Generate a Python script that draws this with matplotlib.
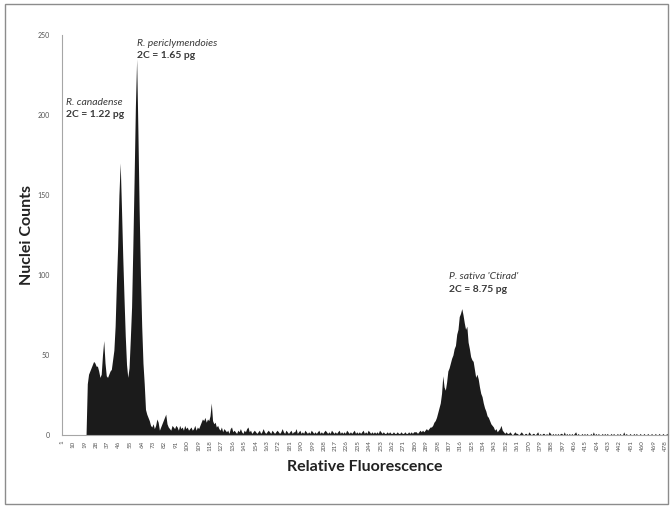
#!/usr/bin/env python3
# flow cytometry histogram: Rhododendron samples with Pisum sativum standard
import matplotlib
matplotlib.use("Agg")
import matplotlib.pyplot as plt
from matplotlib.patches import Rectangle

# channels 1..480 of the relative fluorescence axis
channels = list(range(1, 481))

# channels 1-130: R. canadense and R. periclymenoides peaks
counts_rhodo = [
    0, 0, 0, 0, 0, 0, 0, 0, 0, 0, 0, 0, 0, 0, 0, 0, 0, 0, 0, 0,
    32, 38, 40, 42, 44, 46, 45, 43, 43, 40, 36, 38, 50, 59, 45, 37, 36, 38, 40, 41,
    47, 53, 68, 95, 118, 150, 170, 142, 112, 86, 62, 44, 36, 42, 60, 80, 118, 160, 205, 235,
    190, 140, 100, 68, 45, 32, 16, 13, 11, 9, 6, 5, 7, 4, 6, 10, 8, 3, 5, 7,
    9, 11, 13, 7, 5, 4, 3, 6, 5, 4, 6, 5, 3, 6, 4, 5, 3, 6, 4, 5,
    3, 4, 5, 3, 4, 6, 3, 5, 4, 6, 8, 10, 9, 11, 8, 10, 9, 12, 20, 9,
    7, 8, 5, 6, 4, 3, 5, 2, 4, 3,
]
# channels 131-280: debris between the peaks
counts_debris = [
    2, 3, 1, 4, 5, 2, 3, 2, 1, 3, 2, 4, 2, 1, 3, 2, 4, 5, 2, 3,
    1, 2, 3, 2, 1, 2, 3, 1, 2, 4, 2, 1, 2, 3, 2, 1, 3, 2, 1, 2,
    3, 2, 1, 2, 4, 2, 1, 3, 2, 1, 2, 3, 1, 2, 2, 4, 1, 2, 3, 1,
    2, 1, 3, 2, 1, 2, 1, 3, 2, 1, 2, 1, 2, 3, 1, 2, 1, 2, 3, 2,
    1, 2, 1, 3, 2, 1, 2, 1, 2, 3, 1, 2, 1, 2, 1, 3, 2, 1, 2, 1,
    2, 3, 1, 2, 1, 2, 1, 2, 3, 1, 2, 1, 3, 2, 1, 2, 1, 2, 1, 2,
    1, 3, 2, 1, 2, 1, 1, 2, 1, 2, 1, 1, 2, 1, 1, 2, 1, 1, 2, 1,
    1, 2, 1, 1, 2, 1, 2, 1, 2, 2,
]
# channels 281-350: P. sativa 'Ctirad' peak
counts_pisum = [
    2, 1, 2, 3, 2, 3, 2, 3, 4, 3, 4, 5, 5, 6, 8, 9, 11, 14, 17, 20,
    26, 37, 30, 28, 33, 40, 42, 45, 48, 50, 54, 56, 63, 66, 74, 76, 79, 75, 70, 66,
    68, 58, 54, 49, 47, 46, 41, 36, 38, 35, 30, 26, 24, 20, 17, 15, 12, 11, 9, 7,
    6, 5, 3, 4, 2, 3, 4, 6, 3, 2,
]
# channels 351-480: tail
counts_tail = [
    1, 2, 1, 1, 2, 1, 0, 1, 2, 1, 1, 0, 1, 2, 1, 0, 1, 1, 0, 2,
    1, 0, 1, 1, 0, 1, 2, 0, 1, 0, 1, 1, 0, 1, 0, 2, 1, 0, 1, 0,
    1, 0, 1, 0, 1, 1, 0, 2, 0, 1, 0, 1, 0, 1, 0, 1, 2, 0, 1, 0,
    0, 1, 0, 1, 0, 1, 0, 0, 1, 0, 2, 0, 1, 0, 1, 0, 0, 1, 0, 1,
    0, 1, 0, 0, 1, 0, 1, 0, 0, 1, 0, 1, 0, 0, 2, 0, 1, 0, 0, 1,
    0, 0, 1, 0, 1, 0, 0, 1, 0, 0, 1, 0, 0, 1, 0, 0, 1, 0, 0, 1,
    0, 0, 1, 0, 0, 1, 0, 0, 1, 0,
]
counts = counts_rhodo + counts_debris + counts_pisum + counts_tail

x_ticks = list(range(1, 481, 9))
x_tick_labels = [str(t) for t in x_ticks]
y_ticks = [0, 50, 100, 150, 200, 250]

# (x channel, y count, species, genome size)
annotations = [
    (4, 205, "R. canadense", "2C = 1.22 pg"),
    (60, 242, "R. periclymendoies", "2C = 1.65 pg"),
    (307, 96, "P. sativa 'Ctirad'", "2C = 8.75 pg"),
]

plt.rcParams["font.family"] = ["Lato", "DejaVu Sans"]

fig = plt.figure(figsize=(6.72, 5.08), dpi=100)
ax = fig.add_axes([62 / 672, 73 / 508, 606 / 672, 400 / 508])

ax.fill_between(channels, counts, 0, color="#1b1b1b", linewidth=0)

ax.set_xlim(1, 480)
ax.set_ylim(0, 250)
ax.set_xticks(x_ticks)
ax.set_xticklabels(x_tick_labels, rotation=90, fontsize=4.5, color="#555555")
ax.set_yticks(y_ticks)
ax.set_yticklabels([str(t) for t in y_ticks], fontsize=5, color="#555555")
ax.tick_params(axis="x", length=0, pad=4)
ax.tick_params(axis="y", length=0, pad=9)

for side in ["top", "right"]:
    ax.spines[side].set_visible(False)
for side in ["left", "bottom"]:
    ax.spines[side].set_color("#a6a6a6")
    ax.spines[side].set_linewidth(0.8)

ax.set_xlabel("Relative Fluorescence", fontsize=11.5, fontweight="bold",
              color="#222222", labelpad=6)
ax.set_ylabel("Nuclei Counts", fontsize=11.5, fontweight="bold",
              color="#222222", labelpad=2)

for x, y, name, size in annotations:
    ax.text(x, y, name, fontsize=7.5, style="italic", color="#3a3a3a",
            ha="left", va="bottom")
    ax.text(x, y - 2, size, fontsize=7.5, fontweight="bold", color="#3a3a3a",
            ha="left", va="top")

# grey frame round the whole picture
fig.patches.append(Rectangle((5 / 672, 4 / 508), 663 / 672, 500 / 508,
                             transform=fig.transFigure, fill=False,
                             edgecolor="#8c8c8c", linewidth=1.0))

fig.savefig("out.png", dpi=100)
